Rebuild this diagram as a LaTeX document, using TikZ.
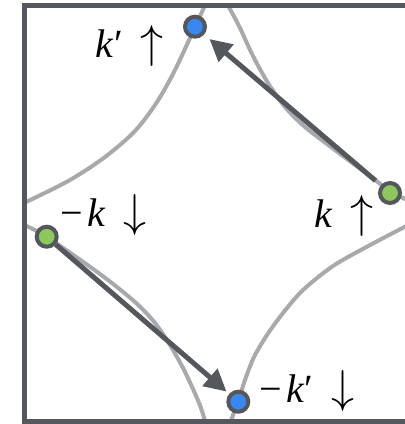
\RequirePackage{fix-cm}
\documentclass[tikz,border=0pt]{standalone}
\usepackage{fontspec}
\setmainfont{Liberation Serif}
\usepackage{tikz}
\usetikzlibrary{arrows.meta}

\definecolor{framegray}{HTML}{54575C}
\definecolor{fsgray}{HTML}{A8A9AC}
\definecolor{dotgreen}{HTML}{8DC85C}
\definecolor{dotblue}{HTML}{3A87F2}

\newcommand{\spinup}{\hspace{0.45em}{\fontsize{46}{50}\selectfont$\uparrow$}}
\newcommand{\spindn}{\hspace{0.45em}{\fontsize{46}{50}\selectfont$\downarrow$}}
\newcommand{\mnus}{−\kern0.12em}

\tikzset{
  fermi/.style={fsgray, line width=4pt},
  state/.style={circle, draw=framegray, line width=4pt, minimum size=20pt, inner sep=0pt},
  kick/.style={framegray, line width=5pt, -{Triangle[length=22pt,width=22pt]}},
  lbl/.style={font=\fontsize{40}{44}\selectfont, inner sep=0pt},
}

\begin{document}
\begin{tikzpicture}[x=1pt,y=-1pt]
\useasboundingbox (0,0) rectangle (405,424);
% fermi surface
\begin{scope}
\clip (24.8,5.5) rectangle (440,421.5);
\draw[fermi] plot[smooth] coordinates {(15,206) (26.7,201.7) (70,180) (105,157) (135,131) (157,102) (175,70) (195,27) (207,1)};
\draw[fermi] plot[smooth] coordinates {(225,0) (230,9) (240,28) (253,56) (268,83) (285,107) (305,127) (335,150) (363,171) (390,191) (405,199) (420,206)};
\draw[fermi] plot[smooth] coordinates {(420,219) (405,226.7) (367,246.7) (333,266) (303,290) (283,313) (267,335) (254,357) (245,380) (238,402) (230,423) (227,432)};
\draw[fermi] plot[smooth] coordinates {(15,220) (26.7,226) (47,237) (100,274) (135,302) (155,323) (170,345) (183,368) (193,389) (201,408) (207,428)};
\end{scope}
\draw[framegray, line width=5pt] (24.8,5.5) rectangle (440,421.5);
% states
\node[state, fill=dotgreen] (kup) at (390,193) {};
\node[state, fill=dotgreen] (mkdn) at (46.7,236.7) {};
\node[state, fill=dotblue] (kpup) at (195,26.7) {};
\node[state, fill=dotblue] (mkpdn) at (238.3,401.7) {};
% scattering
\draw[kick, shorten <=7pt, shorten >=7pt] (kup) -- (kpup);
\draw[kick, shorten >=3.5pt] (mkdn) -- (mkpdn);
% labels
\node[lbl, anchor=base east] (lkpup) at (164,57) {\textit{k}′\spinup};
\node[lbl, anchor=base east] (lkup) at (374,227) {\textit{k}\spinup};
\node[lbl, anchor=base west] (lmkdn) at (60,226) {\mnus\textit{k}\spindn};
\node[lbl, anchor=base west] (lmkpdn) at (259,402) {\mnus\textit{k}′\spindn};
\end{tikzpicture}
\end{document}
